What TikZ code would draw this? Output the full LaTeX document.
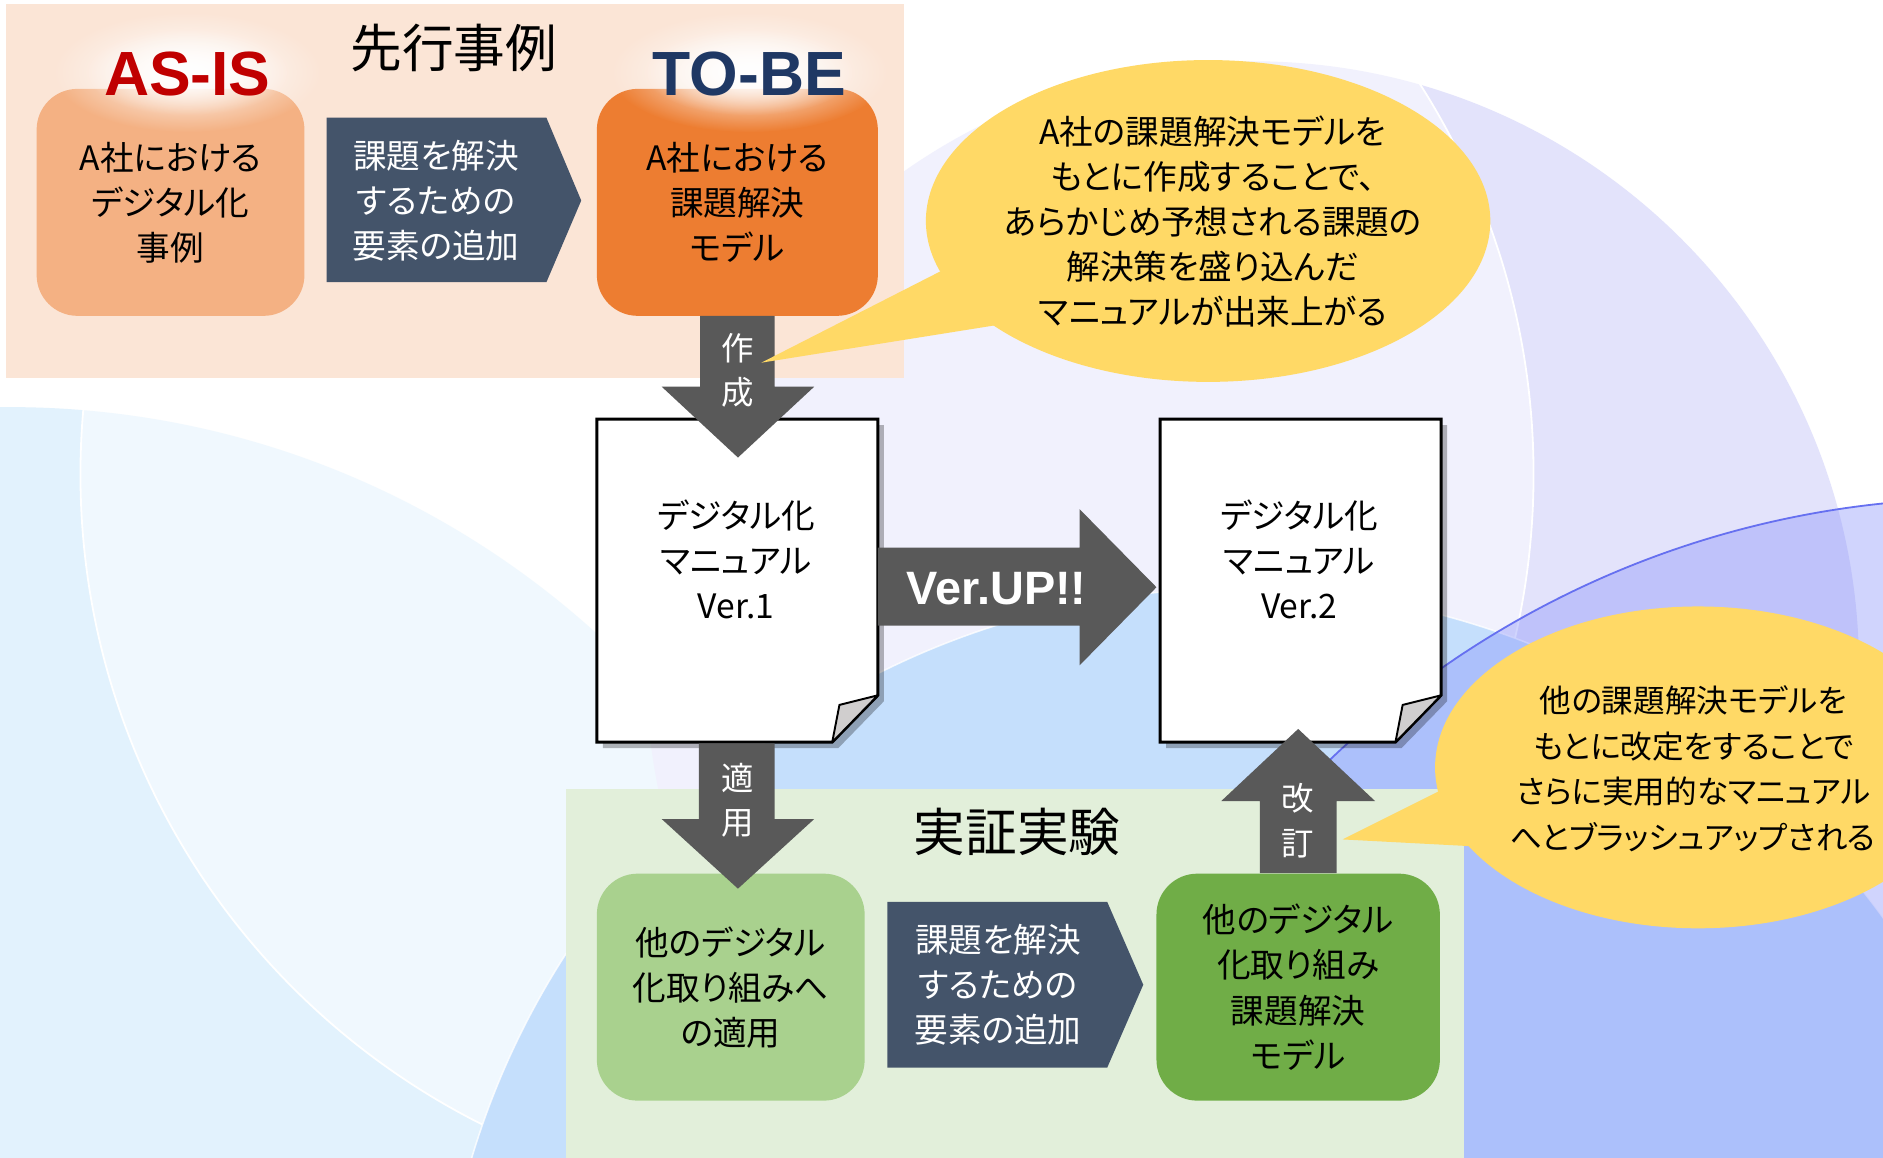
\documentclass[tikz,border=0pt]{standalone}
\usepackage{fontspec}
\newfontfamily\jp[RawFeature=+palt]{Noto Sans CJK JP}
\newfontfamily\jpw{Noto Sans CJK JP}
\newfontfamily\lsans{Liberation Sans}
\usetikzlibrary{fadings}
\definecolor{peach}{HTML}{FBE5D6}
\definecolor{asfill}{HTML}{F4B183}
\definecolor{tobefill}{HTML}{ED7D31}
\definecolor{slate}{HTML}{44546A}
\definecolor{agrey}{HTML}{595959}
\definecolor{gpanel}{HTML}{E2EFDA}
\definecolor{gone}{HTML}{A9D18E}
\definecolor{gtwo}{HTML}{70AD47}
\definecolor{bubble}{HTML}{FFD966}
\definecolor{asred}{HTML}{C00000}
\definecolor{navy}{HTML}{1F3864}
\definecolor{foldgrey}{HTML}{D0CECE}
\definecolor{bgA}{HTML}{E2F2FD}
\definecolor{bgLav}{HTML}{E3E3FB}
\definecolor{bgB}{HTML}{C5DFFC}
\definecolor{bgC}{HTML}{828CFA}
\definecolor{bgCline}{HTML}{6670F0}
\tikzfading[name=glowfade, inner color=transparent!0, outer color=transparent!100]
\tikzset{
  jpt/.style={font=\jp\fontsize{28}{37.5}\selectfont, align=center, inner sep=0pt},
  rbox/.style={jpt, rectangle, rounded corners=34pt, minimum height=189pt},
  wlabel/.style={font=\jp\fontsize{27}{37}\selectfont, align=center, inner sep=0pt, text=white},
  titlet/.style={font=\jpw\fontsize{43}{50}\selectfont, inner sep=0pt},
  bigword/.style={font=\lsans\bfseries\fontsize{52}{52}\selectfont, inner sep=0pt},
  bubtext/.style={font=\jp\fontsize{28}{37.3}\selectfont, align=center, inner sep=0pt},
  docshape/.style={fill=white, draw=black, line width=2.4pt, line join=miter},
  foldshape/.style={fill=foldgrey, draw=black, line width=1.6pt, line join=round},
  docshadow/.style={fill=black, fill opacity=0.28},
  glow/.style={fill=white, path fading=glowfade},
}
\begin{document}
\begin{tikzpicture}[x=1pt,y=-1pt]
\useasboundingbox (0,0) rectangle (1568,964);
% background
\begin{scope}
\clip (0,0) rectangle (1568,964);
\fill[white] (0,0) rectangle (1568,964);
\fill[bgA] (8,1067) circle[radius=728];
\fill[bgLav] (1043,556) circle[radius=505];
\fill[white, fill opacity=0.5] (672,395) circle[radius=605];
\draw[white, line width=1.5pt] (672,395) circle[radius=605];
\fill[bgB] (1030,1155) circle[radius=665];
\draw[white, line width=1.3pt, draw opacity=0.8] (1030,1155) circle[radius=665];
\fill[bgC, fill opacity=0.37] (1650,1200) circle[radius=785];
\draw[bgCline, line width=1.5pt] (1650,1200) circle[radius=785];
\end{scope}
% panels
\fill[peach] (5,3) rectangle (753,315);
\fill[gpanel] (471,657) rectangle (1219,964);
% top row
\node[rbox, fill=asfill, minimum width=223pt] (asis) at (142,168.5) {A社における\\デジタル化\\事例};
\node[rbox, fill=tobefill, minimum width=234pt] (tobe) at (614,168.5) {A社における\\課題解決\\モデル};
\fill[glow] (156,60) ellipse[x radius=112, y radius=50];
\fill[glow] (156,60) ellipse[x radius=85, y radius=36];
\fill[glow] (624,60) ellipse[x radius=116, y radius=50];
\fill[glow] (624,60) ellipse[x radius=88, y radius=36];
\node[titlet] (ttop) at (378,40) {先行事例};
\node[titlet] (tbot) at (847,693) {実証実験};
\node[bigword, text=asred] (asislbl) at (156,62) {AS-IS};
\node[bigword, text=navy] (tobelbl) at (624,62) {TO-BE};
\fill[slate] (272,98) -- (455,98) -- (484,167) -- (455,235) -- (272,235) -- cycle;
\node[jpt, text=white] (slone) at (363,167) {課題を解決\\するための\\要素の追加};
% doc 1
\fill[docshadow, shift={(5,5)}] (497,349) -- (731,349) -- (731,579) -- (693,618) -- (497,618) -- cycle;
\draw[docshape] (497,349) -- (731,349) -- (731,579) -- (693,618) -- (497,618) -- cycle;
\draw[foldshape] (731,579) -- (699,587) -- (693,618) -- cycle;
\node[jpt] (docone) at (613,466) {デジタル化\\マニュアル\\Ver.1};
% doc 2
\fill[docshadow, shift={(5,5)}] (966,349) -- (1200,349) -- (1200,579) -- (1162,618) -- (966,618) -- cycle;
\draw[docshape] (966,349) -- (1200,349) -- (1200,579) -- (1162,618) -- (966,618) -- cycle;
\draw[foldshape] (1200,579) -- (1168,587) -- (1162,618) -- cycle;
\node[jpt] (doctwo) at (1082,466) {デジタル化\\マニュアル\\Ver.2};
% arrow create
\fill[agrey] (583,263) -- (645,263) -- (645,322) -- (678,322) -- (614.5,381) -- (551,322) -- (583,322) -- cycle;
\node[wlabel] (lblcreate) at (614,308.5) {作\\成};
% ver up arrow
\fill[agrey] (731,456) -- (899,456) -- (899,424) -- (963,489) -- (899,554) -- (899,521) -- (731,521) -- cycle;
\node[font=\lsans\bfseries\fontsize{39}{39}\selectfont, text=white, inner sep=0pt] (lblup) at (830,490) {Ver.UP!!};
% bottom row
\node[rbox, fill=gone, minimum width=223pt] (gbone) at (608.5,822) {他のデジタル\\化取り組みへ\\の適用};
\fill[slate] (739,751) -- (922,751) -- (952,820) -- (922,889) -- (739,889) -- cycle;
\node[jpt, text=white] (sltwo) at (831,820) {課題を解決\\するための\\要素の追加};
\node[rbox, fill=gtwo, minimum width=236pt] (gbtwo) at (1081,822) {他のデジタル\\化取り組み\\課題解決\\モデル};
% arrow apply
\fill[agrey] (582,619) -- (645,619) -- (645,682) -- (678,682) -- (614.5,740) -- (551,682) -- (582,682) -- cycle;
\node[wlabel] (lblapply) at (614,666.5) {適\\用};
% arrow revise
\fill[agrey] (1049,727) -- (1113,727) -- (1113,667) -- (1145,667) -- (1081,607) -- (1017,667) -- (1049,667) -- cycle;
\node[wlabel] (lblrev) at (1081,683.5) {改\\訂};
% bubbles
\fill[bubble] (1006,184) ellipse[x radius=235, y radius=134];
\fill[bubble] (783,226) -- (634,302) -- (828,271) -- cycle;
\node[bubtext] (bubone) at (1010,184.5) {A社の課題解決モデルを\\もとに作成することで、\\あらかじめ予想される課題の\\解決策を盛り込んだ\\マニュアルが出来上がる};
\fill[bubble] (1414,639) ellipse[x radius=219, y radius=134];
\fill[bubble] (1206,655) -- (1118,699) -- (1232,705) -- cycle;
\node[bubtext, font=\jp\fontsize{26.3}{38}\selectfont] (bubtwo) at (1410,640) {他の課題解決モデルを\\もとに改定をすることで\\さらに実用的なマニュアル\\へとブラッシュアップされる};
\end{tikzpicture}
\end{document}
